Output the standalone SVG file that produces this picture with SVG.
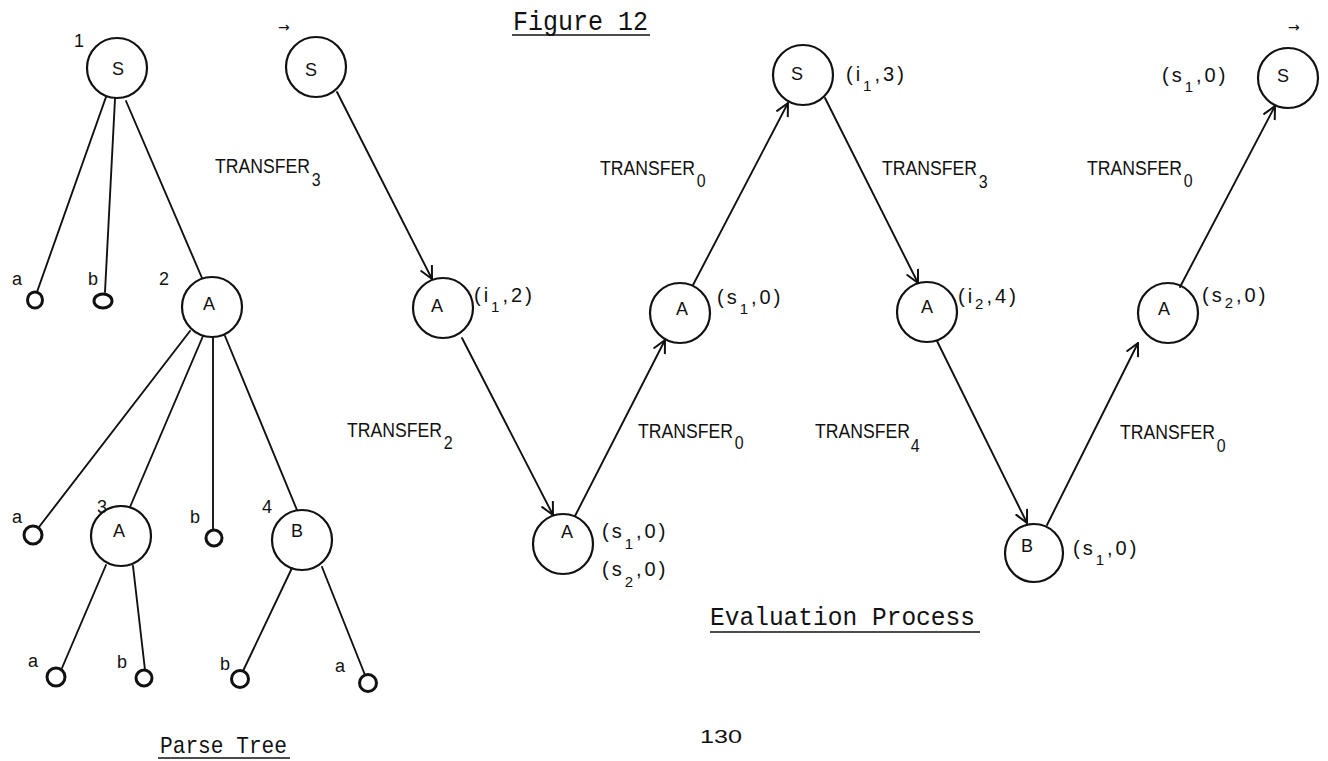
<svg xmlns="http://www.w3.org/2000/svg" width="1328" height="761" viewBox="0 0 1328 761">
  <style>
    .bg { fill: #ffffff; }
    .node { fill: none; stroke: #111; stroke-width: 2.2; }
    .leaf { fill: none; stroke: #111; stroke-width: 3; }
    .edge { fill: none; stroke: #111; stroke-width: 1.9; stroke-linecap: round; }
    .arrow { fill: none; stroke: #111; stroke-width: 1.9; stroke-linecap: round; marker-end: url(#head); }
    .sym { font-family: "Liberation Sans", Arial, sans-serif; font-size: 18px; fill: #111; text-anchor: middle; }
    .small { font-family: "Liberation Sans", Arial, sans-serif; font-size: 18px; fill: #111; }
    .lab { font-family: "Liberation Sans", Arial, sans-serif; font-size: 20px; fill: #111; letter-spacing: 3px; }
    .sub { font-size: 15px; }
    .tr { font-family: "Liberation Sans", Arial, sans-serif; font-size: 21px; fill: #111; }
    .trs { font-size: 19px; }
    .mono { font-family: "Liberation Mono", "Courier New", monospace; fill: #111; }
    .ul { stroke: #111; stroke-width: 1.6; }
    .mark { font-family: "DejaVu Sans", sans-serif; font-size: 14px; fill: #111; }
  </style>
  <defs>
    <marker id="head" markerUnits="userSpaceOnUse" markerWidth="16" markerHeight="16" refX="13" refY="7" orient="auto">
      <path d="M1,1 L13,7 L1,13" fill="none" stroke="#111" stroke-width="2" stroke-linecap="round" stroke-linejoin="round"/>
    </marker>
  </defs>

  <rect class="bg" x="0" y="0" width="1328" height="761"/>

  <!-- titles -->
  <g id="title">
    <text class="mono" x="513" y="30" font-size="27" textLength="135" lengthAdjust="spacingAndGlyphs">Figure 12</text>
    <line class="ul" x1="512" y1="35" x2="650" y2="35"/>
  </g>
  <g id="caption-eval">
    <text class="mono" x="710" y="625" font-size="25" textLength="265" lengthAdjust="spacingAndGlyphs">Evaluation Process</text>
    <line class="ul" x1="710" y1="632" x2="980" y2="632"/>
  </g>
  <g id="caption-tree">
    <text class="mono" x="160" y="753" font-size="24" textLength="127" lengthAdjust="spacingAndGlyphs">Parse Tree</text>
    <line class="ul" x1="158" y1="758" x2="290" y2="758"/>
  </g>
  <text id="page" class="small" x="700" y="743" font-size="21" textLength="42" lengthAdjust="spacingAndGlyphs">130</text>

  <!-- ===== parse tree: connectors ===== -->
  <g id="tree-edges">
    <line class="edge" x1="106" y1="97" x2="37" y2="292"/>
    <line class="edge" x1="115" y1="99" x2="105" y2="292"/>
    <line class="edge" x1="126" y1="101" x2="202" y2="278"/>
    <line class="edge" x1="190" y1="331" x2="39" y2="527"/>
    <line class="edge" x1="203" y1="336" x2="130" y2="507"/>
    <line class="edge" x1="213" y1="337" x2="213" y2="530"/>
    <line class="edge" x1="225" y1="336" x2="297" y2="510"/>
    <line class="edge" x1="106" y1="565" x2="62" y2="668"/>
    <line class="edge" x1="133" y1="566" x2="145" y2="670"/>
    <line class="edge" x1="292" y1="568" x2="243" y2="671"/>
    <line class="edge" x1="322" y1="567" x2="365" y2="675"/>
  </g>

  <!-- ===== parse tree: nodes ===== -->
  <g id="t-S1">
    <text class="small" x="74" y="47">1</text>
    <circle class="node" cx="117" cy="68" r="30"/>
    <text class="sym" x="118" y="75">S</text>
  </g>
  <g id="t-a1">
    <text class="small" x="12" y="285">a</text>
    <ellipse class="leaf" cx="35" cy="300" rx="7.5" ry="8"/>
  </g>
  <g id="t-b1">
    <text class="small" x="88" y="285">b</text>
    <ellipse class="leaf" cx="103" cy="301" rx="9" ry="7"/>
  </g>
  <g id="t-A2">
    <text class="small" x="159" y="285">2</text>
    <circle class="node" cx="212" cy="307" r="30"/>
    <text class="sym" x="209" y="310">A</text>
  </g>
  <g id="t-a2">
    <text class="small" x="12" y="523">a</text>
    <circle class="leaf" cx="33" cy="535" r="9"/>
  </g>
  <g id="t-A3">
    <text class="small" x="97" y="513">3</text>
    <circle class="node" cx="121" cy="536" r="30"/>
    <text class="sym" x="119" y="537">A</text>
  </g>
  <g id="t-b2">
    <text class="small" x="190" y="523">b</text>
    <circle class="leaf" cx="214" cy="538" r="8"/>
  </g>
  <g id="t-B4">
    <text class="small" x="262" y="513">4</text>
    <circle class="node" cx="302" cy="540" r="30"/>
    <text class="sym" x="297" y="537">B</text>
  </g>
  <g id="t-a3">
    <text class="small" x="28" y="667">a</text>
    <circle class="leaf" cx="56" cy="677" r="9"/>
  </g>
  <g id="t-b3">
    <text class="small" x="117" y="668">b</text>
    <circle class="leaf" cx="144" cy="678" r="8"/>
  </g>
  <g id="t-b4">
    <text class="small" x="220" y="670">b</text>
    <circle class="leaf" cx="240" cy="679" r="8.5"/>
  </g>
  <g id="t-a4">
    <text class="small" x="335" y="672">a</text>
    <circle class="leaf" cx="368" cy="683" r="8.5"/>
  </g>

  <!-- ===== evaluation process: connectors ===== -->
  <g id="eval-edges">
    <line class="arrow" x1="337" y1="92" x2="432" y2="279"/>
    <line class="arrow" x1="462" y1="338" x2="553" y2="515"/>
    <line class="arrow" x1="575" y1="516" x2="665" y2="340"/>
    <line class="arrow" x1="693" y1="285" x2="788" y2="103"/>
    <line class="arrow" x1="825" y1="98" x2="918" y2="283"/>
    <line class="arrow" x1="937" y1="341" x2="1027" y2="523"/>
    <line class="arrow" x1="1047" y1="525" x2="1138" y2="343"/>
    <line class="arrow" x1="1180" y1="287" x2="1275" y2="106"/>
  </g>

  <!-- connector labels: condensed horizontally, subscript index after the word -->
  <g id="edge-labels">
    <text class="tr" transform="translate(215 173) scale(0.84 1)">TRANSFER<tspan class="trs" dx="2" dy="13">3</tspan></text>
    <text class="tr" transform="translate(347 437) scale(0.84 1)">TRANSFER<tspan class="trs" dx="2" dy="12">2</tspan></text>
    <text class="tr" transform="translate(638 438) scale(0.84 1)">TRANSFER<tspan class="trs" dx="2" dy="11">0</tspan></text>
    <text class="tr" transform="translate(600 175) scale(0.84 1)">TRANSFER<tspan class="trs" dx="2" dy="12">0</tspan></text>
    <text class="tr" transform="translate(882 175) scale(0.84 1)">TRANSFER<tspan class="trs" dx="2" dy="13">3</tspan></text>
    <text class="tr" transform="translate(815 438) scale(0.84 1)">TRANSFER<tspan class="trs" dx="1" dy="14">4</tspan></text>
    <text class="tr" transform="translate(1120 439) scale(0.84 1)">TRANSFER<tspan class="trs" dx="2" dy="13">0</tspan></text>
    <text class="tr" transform="translate(1087 175) scale(0.84 1)">TRANSFER<tspan class="trs" dx="2" dy="12">0</tspan></text>
  </g>

  <!-- ===== evaluation process: nodes ===== -->
  <g id="e-S-start">
    <text class="mark" x="278" y="32">→</text>
    <circle class="node" cx="316" cy="67" r="30"/>
    <text class="sym" x="311" y="76">S</text>
  </g>
  <g id="e-A-i1-2">
    <circle class="node" cx="443" cy="308" r="30"/>
    <text class="sym" x="437" y="312" font-size="15">A</text>
    <text class="lab" x="474" y="302">(i<tspan class="sub" dy="10">1</tspan><tspan dy="-10">,2)</tspan></text>
  </g>
  <g id="e-A-leaf">
    <circle class="node" cx="563" cy="544" r="30"/>
    <text class="sym" x="567" y="538">A</text>
    <text class="lab" x="602" y="538">(s<tspan class="sub" dy="11">1</tspan><tspan dy="-11">,0)</tspan></text>
    <text class="lab" x="602" y="576">(s<tspan class="sub" dy="11">2</tspan><tspan dy="-11">,0)</tspan></text>
  </g>
  <g id="e-A-s1">
    <circle class="node" cx="680" cy="313" r="30"/>
    <text class="sym" x="682" y="315">A</text>
    <text class="lab" x="717" y="304">(s<tspan class="sub" dy="10">1</tspan><tspan dy="-10">,0)</tspan></text>
  </g>
  <g id="e-S-i1-3">
    <circle class="node" cx="803" cy="75" r="30"/>
    <text class="sym" x="797" y="80">S</text>
    <text class="lab" x="846" y="81">(i<tspan class="sub" dy="10">1</tspan><tspan dy="-10">,3)</tspan></text>
  </g>
  <g id="e-A-i2-4">
    <circle class="node" cx="927" cy="312" r="30"/>
    <text class="sym" x="927" y="313">A</text>
    <text class="lab" x="958" y="303">(i<tspan class="sub" dy="6">2</tspan><tspan dy="-6">,4)</tspan></text>
  </g>
  <g id="e-B">
    <circle class="node" cx="1034" cy="553" r="29"/>
    <text class="sym" x="1027" y="552">B</text>
    <text class="lab" x="1073" y="555">(s<tspan class="sub" dy="10">1</tspan><tspan dy="-10">,0)</tspan></text>
  </g>
  <g id="e-A-s2">
    <circle class="node" cx="1168" cy="313" r="30"/>
    <text class="sym" x="1164" y="315">A</text>
    <text class="lab" x="1202" y="302">(s<tspan class="sub" dy="6">2</tspan><tspan dy="-6">,0)</tspan></text>
  </g>
  <g id="e-S-end">
    <text class="mark" x="1288" y="32">→</text>
    <circle class="node" cx="1288" cy="78" r="30"/>
    <text class="sym" x="1283" y="82">S</text>
    <text class="lab" x="1162" y="82">(s<tspan class="sub" dy="10">1</tspan><tspan dy="-10">,0)</tspan></text>
  </g>
</svg>
